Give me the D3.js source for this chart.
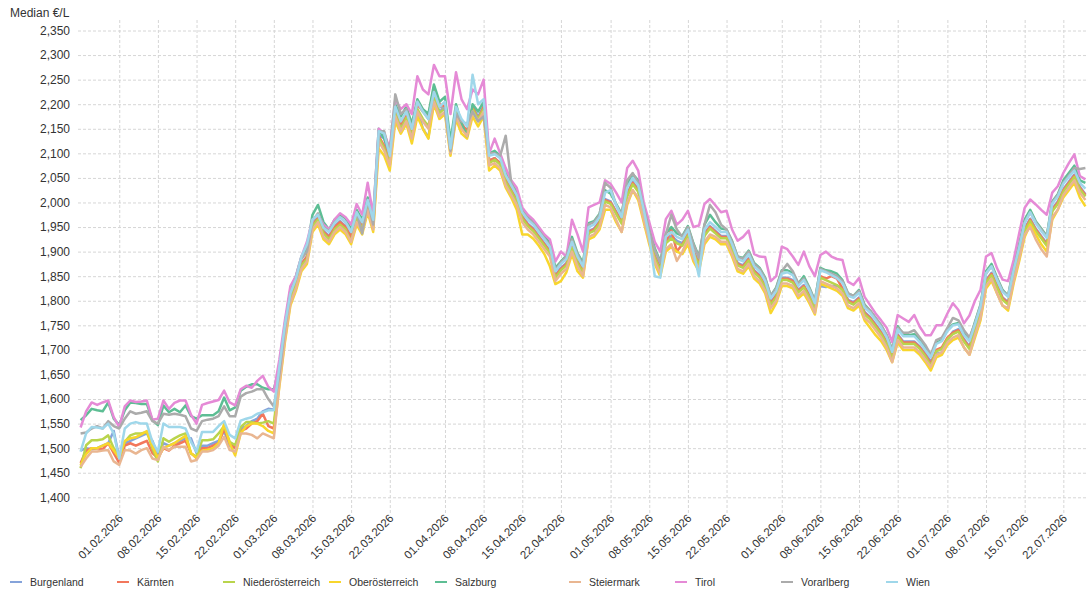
<!DOCTYPE html>
<html>
<head>
<meta charset="utf-8">
<style>
  body { margin: 0; background: #fff; }
  svg { font-family: "Liberation Sans", Arial, sans-serif; }
</style>
</head>
<body>
<script src="https://cdnjs.cloudflare.com/ajax/libs/d3/7.8.5/d3.min.js"></script>
<script>

// *** DATA ***

// first day of the daily series
var firstDay = "25.01.2026";

// Regions (legend order) and their line colours
var regions = ["Burgenland", "Kärnten", "Niederösterreich", "Oberösterreich", "Salzburg",
               "Steiermark", "Tirol", "Vorarlberg", "Wien"];
var colors = ["#85a3da", "#f2775c", "#b9d44c", "#f8d62c", "#5dbe94",
              "#e9b691", "#e58ad6", "#ababab", "#9fd7ea"];

// Daily median price, €/L x 1000
var burgenland = [1495,1500,1498,1500,1505,1510,1535,1480,1510,1515,1520,1525,1530,1515,1485,1510,1505,1510,1515,1520,1520,1490,1505,1505,1510,1515,1535,1505,1500,1540,1545,1555,1560,1575,1580,1578,
  1645,1735,1805,1835,1875,1890,1955,1970,1942,1932,1952,1962,1952,1932,1972,1952,1995,1958,2138,2130,
  2088,2185,2155,2175,2140,2190,2150,2132,2215,2185,2195,2105,2185,2160,2145,2195,2175,2195,2085,2090,
  2080,2047,2027,2007,1972,1957,1947,1932,1917,1902,1852,1867,1877,1912,1882,1862,1942,1947,1962,2007,
  2002,1982,1962,2017,2042,2027,1977,1932,1892,1867,1922,1932,1922,1917,1937,1902,1877,1937,1952,1942,
  1932,1932,1907,1877,1872,1887,1862,1852,1832,1797,1812,1847,1847,1842,1822,1832,1812,1787,1830,1828,
  1830,1830,1827,1802,1797,1807,1777,1767,1752,1737,1717,1687,1732,1717,1717,1717,1707,1692,1677,1692,
  1695,1720,1737,1742,1722,1707,1742,1777,1842,1857,1832,1807,1797,1852,1897,1947,1967,1947,1932,1917,
  1987,2002,2027,2042,2057,2032,2017];

var kaernten = [1470,1495,1500,1500,1498,1510,1490,1470,1505,1510,1505,1510,1515,1490,1480,1500,1495,1505,1510,1515,1490,1480,1500,1500,1505,1510,1540,1510,1500,1535,1540,1550,1555,1570,1545,1540,
  1640,1730,1805,1835,1875,1890,1955,1968,1940,1930,1950,1960,1950,1930,1970,1950,1995,1955,2135,2115,
  2085,2185,2160,2180,2140,2200,2185,2175,2235,2200,2195,2110,2185,2160,2145,2195,2170,2195,2085,2090,
  2080,2045,2025,2005,1970,1955,1945,1930,1915,1900,1850,1865,1875,1910,1880,1860,1940,1945,1960,2005,
  2000,1980,1960,2015,2040,2025,1975,1930,1890,1865,1920,1945,1900,1915,1935,1900,1875,1935,1950,1940,
  1930,1930,1905,1875,1870,1885,1860,1850,1830,1795,1810,1845,1845,1840,1820,1830,1810,1785,1850,1845,
  1850,1845,1825,1800,1795,1805,1775,1765,1750,1735,1715,1685,1730,1715,1715,1715,1705,1690,1672,1700,
  1705,1725,1735,1740,1720,1705,1740,1775,1840,1855,1830,1805,1795,1850,1895,1945,1965,1945,1930,1915,
  1985,2000,2025,2040,2055,2030,2015];

var niederoesterreich = [1459,1506,1516,1516,1518,1526,1500,1483,1513,1526,1530,1530,1533,1500,1473,1520,1513,1520,1526,1530,1489,1483,1516,1516,1518,1530,1545,1513,1506,1543,1553,1553,1550,1552,1555,1550,
  1645,1735,1802,1832,1872,1885,1952,1965,1937,1925,1945,1955,1945,1920,1967,1947,1992,1952,2132,2110,
  2080,2180,2150,2172,2135,2190,2170,2155,2212,2182,2192,2107,2182,2155,2140,2190,2170,2190,2080,2087,
  2077,2042,2022,2002,1967,1952,1942,1927,1912,1897,1847,1862,1872,1907,1877,1857,1937,1942,1957,2002,
  1997,1977,1957,2012,2037,2022,1972,1927,1887,1862,1917,1927,1917,1912,1932,1897,1872,1932,1947,1937,
  1927,1927,1902,1872,1867,1882,1857,1847,1827,1792,1807,1842,1842,1837,1817,1827,1807,1782,1847,1842,
  1837,1832,1822,1797,1792,1802,1772,1762,1747,1732,1712,1682,1727,1712,1712,1712,1702,1687,1668,1697,
  1702,1722,1732,1737,1717,1702,1737,1772,1837,1852,1827,1802,1792,1847,1892,1942,1962,1942,1927,1912,
  1982,1997,2022,2037,2052,2027,2012];

var oberoesterreich = [1465,1488,1500,1500,1505,1510,1495,1480,1515,1520,1522,1528,1535,1505,1480,1500,1505,1510,1518,1525,1490,1480,1495,1497,1500,1510,1550,1510,1485,1530,1545,1550,1550,1545,1535,1530,
  1625,1715,1790,1820,1860,1875,1940,1955,1925,1915,1935,1945,1935,1915,1955,1935,1980,1940,2110,2095,
  2065,2165,2140,2160,2120,2175,2150,2130,2200,2170,2180,2095,2170,2140,2130,2175,2155,2175,2065,2075,
  2065,2030,2010,1985,1935,1935,1926,1912,1895,1870,1834,1840,1858,1895,1860,1847,1925,1930,1945,1985,
  1985,1960,1940,1995,2025,2005,1960,1915,1875,1850,1900,1910,1900,1895,1915,1880,1860,1915,1930,1925,
  1915,1915,1890,1860,1855,1870,1845,1835,1815,1775,1795,1830,1830,1825,1805,1815,1795,1772,1835,1830,
  1825,1820,1810,1785,1780,1790,1760,1745,1730,1718,1700,1675,1715,1700,1700,1700,1690,1675,1658,1685,
  1690,1710,1720,1725,1705,1690,1725,1760,1825,1840,1815,1790,1780,1835,1880,1930,1955,1935,1915,1900,
  1965,1985,2010,2025,2040,2010,1992];

var salzburg = [1557,1567,1580,1577,1575,1593,1560,1547,1577,1593,1592,1590,1590,1557,1547,1587,1573,1580,1573,1587,1565,1560,1567,1567,1567,1575,1603,1577,1583,1617,1625,1630,1630,1623,1620,1620,
  1662,1752,1822,1850,1890,1905,1975,1995,1960,1945,1965,1975,1968,1945,1985,1965,2010,1970,2150,2130,
  2100,2200,2175,2195,2160,2210,2190,2180,2240,2205,2215,2125,2200,2160,2135,2200,2185,2205,2100,2105,
  2095,2060,2040,2020,1985,1972,1962,1947,1932,1917,1867,1880,1892,1930,1897,1877,1958,1962,1977,2025,
  2018,1997,1977,2035,2058,2045,1992,1947,1907,1880,1937,1950,1937,1932,1952,1917,1890,1955,1975,1960,
  1947,1945,1922,1890,1887,1902,1877,1867,1847,1810,1827,1862,1862,1857,1835,1850,1827,1800,1867,1862,
  1860,1855,1842,1815,1810,1822,1792,1780,1765,1750,1730,1700,1748,1732,1730,1732,1720,1705,1688,1715,
  1720,1740,1752,1755,1735,1720,1757,1792,1860,1875,1847,1822,1810,1867,1915,1965,1985,1962,1947,1932,
  2002,2017,2045,2060,2075,2045,2040];

var steiermark = [1462,1479,1493,1493,1495,1496,1473,1466,1496,1495,1489,1496,1500,1479,1476,1503,1496,1503,1503,1503,1473,1476,1493,1493,1496,1505,1523,1496,1493,1530,1530,1527,1520,1530,1525,1520,
  1630,1720,1795,1825,1865,1880,1945,1960,1930,1920,1940,1950,1940,1920,1960,1940,1985,1945,2125,2105,
  2075,2175,2145,2165,2130,2185,2165,2150,2205,2175,2185,2100,2175,2150,2135,2185,2165,2185,2075,2080,
  2070,2035,2015,1995,1960,1945,1935,1920,1905,1890,1840,1855,1865,1900,1870,1850,1930,1935,1950,1995,
  1990,1965,1940,2000,2025,2010,1965,1920,1880,1855,1905,1915,1881,1900,1925,1885,1865,1920,1935,1930,
  1920,1920,1895,1865,1860,1875,1850,1840,1820,1785,1800,1835,1835,1830,1810,1820,1800,1775,1840,1835,
  1830,1825,1815,1790,1785,1795,1765,1755,1740,1725,1705,1675,1720,1705,1705,1705,1695,1680,1665,1690,
  1695,1715,1725,1730,1705,1690,1730,1765,1830,1845,1815,1790,1785,1840,1885,1935,1950,1925,1905,1890,
  1970,1985,2015,2030,2045,2020,2005];

var tirol = [1542,1575,1593,1588,1593,1597,1563,1543,1585,1597,1594,1595,1597,1558,1560,1597,1580,1592,1597,1597,1568,1550,1588,1592,1595,1598,1617,1593,1587,1620,1627,1623,1637,1647,1625,1615,
  1680,1760,1830,1850,1890,1920,1965,1975,1955,1945,1965,1978,1970,1955,1997,1975,2040,1975,2150,2140,
  2110,2210,2190,2200,2180,2257,2230,2220,2280,2257,2257,2180,2265,2210,2190,2230,2220,2250,2100,2130,
  2100,2070,2045,2030,1990,1975,1965,1950,1935,1925,1880,1900,1890,1965,1935,1900,1990,1995,2000,2045,
  2038,2020,2000,2070,2085,2065,2000,1960,1920,1900,1966,1983,1955,1965,1983,1950,1953,1997,2007,1994,
  1980,1983,1945,1922,1930,1943,1895,1890,1889,1840,1850,1910,1905,1890,1873,1900,1870,1850,1893,1900,
  1890,1885,1883,1839,1832,1846,1808,1791,1774,1760,1745,1716,1771,1764,1757,1771,1747,1730,1730,1750,
  1750,1774,1795,1781,1754,1770,1800,1822,1890,1897,1866,1843,1840,1883,1937,1989,2006,1996,1985,1975,
  2020,2033,2060,2080,2098,2054,2047];

var vorarlberg = [1530,1532,1540,1545,1540,1555,1545,1540,1560,1575,1570,1572,1575,1555,1550,1570,1568,1570,1568,1565,1540,1535,1555,1558,1560,1565,1585,1565,1565,1605,1612,1615,1620,1620,1600,1585,
  1650,1745,1815,1845,1885,1900,1962,1978,1950,1942,1960,1970,1960,1940,1980,1937,2005,1955,2145,2145,
  2100,2220,2180,2190,2150,2205,2185,2170,2225,2195,2190,2105,2180,2165,2160,2185,2165,2175,2100,2100,
  2095,2136,2040,2015,1982,1968,1958,1943,1928,1912,1862,1878,1890,1925,1895,1872,1955,1960,1975,2040,
  2030,1995,1975,2045,2060,2040,1990,1943,1903,1878,1935,1975,1945,1930,1950,1915,1888,1955,1995,1980,
  1955,1945,1920,1890,1885,1900,1875,1865,1845,1810,1825,1860,1875,1860,1835,1845,1825,1800,1865,1860,
  1855,1850,1840,1815,1810,1820,1790,1780,1765,1750,1730,1700,1745,1735,1735,1740,1725,1710,1690,1720,
  1725,1745,1765,1760,1740,1725,1755,1790,1855,1870,1845,1820,1810,1865,1910,1960,1980,1960,1945,1930,
  2000,2015,2040,2055,2070,2068,2070];

var wien = [1493,1530,1543,1542,1540,1550,1530,1479,1540,1550,1553,1550,1550,1513,1493,1550,1543,1543,1543,1540,1513,1493,1533,1533,1533,1545,1555,1527,1520,1556,1560,1563,1570,1573,1577,1577,
  1665,1750,1815,1845,1890,1915,1965,1975,1948,1940,1958,1970,1960,1940,1980,1960,2005,1965,2145,2140,
  2095,2195,2165,2185,2150,2205,2185,2170,2225,2195,2205,2110,2195,2170,2155,2260,2200,2210,2095,2098,
  2090,2055,2035,2015,1980,1965,1955,1940,1925,1910,1860,1875,1885,1920,1890,1870,1950,1955,1970,2020,
  2025,1995,1970,2030,2050,2035,1985,1930,1850,1847,1930,1940,1930,1925,1945,1900,1850,1945,1960,1950,
  1940,1940,1915,1885,1880,1895,1870,1860,1840,1805,1820,1855,1858,1852,1830,1842,1822,1795,1862,1858,
  1852,1846,1836,1810,1806,1816,1786,1776,1761,1746,1726,1696,1742,1728,1728,1728,1716,1700,1685,1712,
  1718,1738,1750,1752,1730,1718,1752,1788,1856,1870,1842,1818,1808,1862,1908,1958,1980,1958,1942,1928,
  1998,2012,2038,2052,2065,2040,2028];

// Axis ticks
var yTicks = [1.40, 1.45, 1.50, 1.55, 1.60, 1.65, 1.70, 1.75, 1.80, 1.85,
              1.90, 1.95, 2.00, 2.05, 2.10, 2.15, 2.20, 2.25, 2.30, 2.35];
var xTickLabels = ["01.02.2026", "08.02.2026", "15.02.2026", "22.02.2026",
                   "01.03.2026", "08.03.2026", "15.03.2026", "22.03.2026",
                   "01.04.2026", "08.04.2026", "15.04.2026", "22.04.2026",
                   "01.05.2026", "08.05.2026", "15.05.2026", "22.05.2026",
                   "01.06.2026", "08.06.2026", "15.06.2026", "22.06.2026",
                   "01.07.2026", "08.07.2026", "15.07.2026", "22.07.2026"];

var series = [burgenland, kaernten, niederoesterreich, oberoesterreich, salzburg,
              steiermark, tirol, vorarlberg, wien];

// *** LAYOUT ***

var W = 1092, H = 600;
var plotL = 78, plotR = 1088, plotT = 20, plotB = 513;
var legendTextX = [30, 137, 243, 349, 455, 589, 695, 801, 906];
var legendY = 582;

var parseDay = d3.timeParse("%d.%m.%Y");
var start = parseDay(firstDay);
var days = burgenland.map(function(v, i){ return d3.timeDay.offset(start, i); });
var xTickDates = xTickLabels.map(parseDay);

var x = d3.scaleTime()
	.domain([days[0], days[days.length - 1]])
	.range([80.6, 1085.4]);
var y = d3.scaleLinear()
	.domain([1.40, 2.35])
	.range([497.3, 30.5]);

var deFormat = d3.formatLocale({decimal: ",", thousands: ".", grouping: [3], currency: ["", " €"]}).format(".3f");

var svg = d3.select("body").append("svg")
	.attr("width", W)
	.attr("height", H);

// Y axis + horizontal grid
var gy = svg.append("g")
	.attr("transform", "translate(" + plotL + ",0)")
	.call(d3.axisLeft(y).tickValues(yTicks).tickFormat(deFormat)
		.tickSize(-(plotR - plotL)).tickPadding(8));
gy.select(".domain").remove();
gy.selectAll(".tick line")
	.attr("stroke", "#d6d6d6")
	.attr("stroke-dasharray", "3,2");
gy.selectAll(".tick text")
	.attr("fill", "#333")
	.style("font-size", "12px");

// X axis + vertical grid
var gx = svg.append("g")
	.attr("transform", "translate(0," + plotB + ")")
	.call(d3.axisBottom(x).tickValues(xTickDates).tickFormat(d3.timeFormat("%d.%m.%Y"))
		.tickSize(-(plotB - plotT)));
gx.select(".domain").remove();
gx.selectAll(".tick line")
	.attr("stroke", "#d6d6d6")
	.attr("stroke-dasharray", "3,2");
gx.selectAll(".tick text")
	.attr("fill", "#333")
	.style("font-size", "11.5px")
	.style("text-anchor", "end")
	.attr("x", 4)
	.attr("y", 6)
	.attr("dy", null)
	.attr("transform", "rotate(-45 4 6)");

// Unit label
svg.append("text")
	.attr("x", 10)
	.attr("y", 16.5)
	.attr("fill", "#333")
	.style("font-size", "12px")
	.text("Median €/L");

// Lines
var line = d3.line()
	.x(function(d, i){ return x(days[i]); })
	.y(function(d){ return y(d / 1000); });

svg.append("g").selectAll("path")
	.data(series)
	.enter()
	.append("path")
	.attr("d", line)
	.attr("fill", "none")
	.attr("stroke", function(d, i){ return colors[i]; })
	.attr("stroke-width", 2.5)
	.attr("stroke-linejoin", "round");

// Legend
var lg = svg.append("g").selectAll("g")
	.data(regions)
	.enter()
	.append("g")
	.attr("transform", function(d, i){ return "translate(" + legendTextX[i] + "," + legendY + ")"; });
lg.append("line")
	.attr("x1", -20).attr("x2", -8)
	.attr("y1", 0).attr("y2", 0)
	.attr("stroke", function(d, i){ return colors[i]; })
	.attr("stroke-width", 2);
lg.append("text")
	.attr("x", 0)
	.attr("dy", "0.35em")
	.attr("fill", "#333")
	.style("font-size", "10.5px")
	.text(function(d){ return d; });

</script>
</body>
</html>
